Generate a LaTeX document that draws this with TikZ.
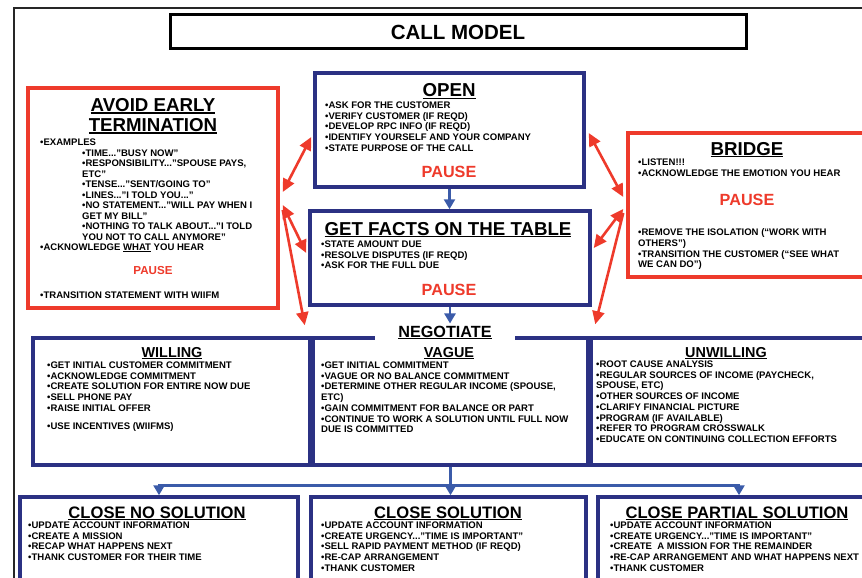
\documentclass[tikz,border=0pt]{standalone}
\usepackage{fontspec}
\setmainfont{Liberation Sans}
\usetikzlibrary{arrows.meta,calc,positioning}

\definecolor{navy}{HTML}{2B3183}
\definecolor{alertred}{HTML}{EE3A2B}
\definecolor{flowblue}{HTML}{3B5BA9}

% underlined headings with a heavier rule
\newcommand{\ulbox}[1]{\setbox0=\hbox{#1}\rlap{\rule[-2.4pt]{\wd0}{1.3pt}}\box0\relax}
\newcommand{\ulthin}[1]{\setbox0=\hbox{#1}\rlap{\rule[-1.4pt]{\wd0}{0.7pt}}\box0\relax}

\tikzset{
  navybox/.style={draw=navy, line width=3.5pt, fill=white, inner sep=0pt},
  redbox/.style={draw=alertred, line width=3.5pt, fill=white, inner sep=0pt},
  titlebox/.style={draw=black, line width=3pt, inner sep=0pt,
    font=\bfseries\fontsize{20.5}{22}\selectfont},
  boxhead/.style={font=\bfseries\fontsize{18.7}{20}\selectfont, inner sep=0pt, anchor=base},
  subhead/.style={font=\bfseries\fontsize{14.4}{16}\selectfont, inner sep=0pt, anchor=base},
  closehead/.style={font=\bfseries\fontsize{16.6}{18}\selectfont, inner sep=0pt, anchor=base},
  pointlist/.style={align=left, font=\bfseries\fontsize{9.55}{10.75}\selectfont,
    inner sep=0pt, anchor=north west},
  pausenote/.style={text=alertred, font=\bfseries\fontsize{16.2}{18}\selectfont,
    inner sep=0pt, anchor=base},
  redlink/.style={draw=alertred, line width=2.6pt,
    {Triangle[length=13pt,width=12pt]}-{Triangle[length=13pt,width=12pt]}},
  redpoint/.style={draw=alertred, line width=2.6pt, -{Triangle[length=13pt,width=12pt]}},
  blueline/.style={draw=flowblue, line width=2.8pt},
  bluearrow/.style={blueline, -{Triangle[length=10pt,width=11pt]}},
}

\begin{document}
\begin{tikzpicture}[x=1pt,y=-1pt]
\useasboundingbox (0,0) rectangle (862,578);
\clip (0,0) rectangle (862,578);

% page frame
\draw[line width=1.5pt, black!85] (14,590) -- (14,8) -- (875,8);

\node[titlebox, minimum width=576, minimum height=34] (title) at (458,32) {CALL MODEL};

% open
\node[navybox, minimum width=269, minimum height=114] (open) at (449.5,130) {};
\node[boxhead] (openhead) at (449,96.5) {\ulbox{OPEN}};
\node[pointlist] (openlist) at (325,101.5) {•ASK FOR THE CUSTOMER\\•VERIFY CUSTOMER (IF REQD)\\•DEVELOP RPC INFO (IF REQD)\\•IDENTIFY YOURSELF AND YOUR COMPANY\\•STATE PURPOSE OF THE CALL};
\node[pausenote] (openpause) at (449,177.5) {PAUSE};

% get facts
\node[navybox, minimum width=280, minimum height=94] (facts) at (450,258) {};
\node[boxhead] (factshead) at (448,235) {\ulbox{GET FACTS ON THE TABLE}};
\node[pointlist] (factslist) at (321,240.5) {•STATE AMOUNT DUE\\•RESOLVE DISPUTES (IF REQD)\\•ASK FOR THE FULL DUE};
\node[pausenote] (factspause) at (449,295.5) {PAUSE};

% avoid early termination
\node[redbox, minimum width=250, minimum height=220] (avoid) at (153,198) {};
\node[boxhead, align=center, anchor=north] (avoidhead) at (153,98) {\ulbox{AVOID EARLY}\\\ulbox{TERMINATION}};
\node[pointlist] (examples) at (40,138.5) {•EXAMPLES};
\node[pointlist, font=\bfseries\fontsize{9.55}{10.5}\selectfont] (examplelist) at (82,149.5) {•TIME..."BUSY NOW"\\•RESPONSIBILITY..."SPOUSE PAYS,\\ETC"\\•TENSE..."SENT/GOING TO"\\•LINES..."I TOLD YOU..."\\•NO STATEMENT..."WILL PAY WHEN I\\GET MY BILL"\\•NOTHING TO TALK ABOUT..."I TOLD\\YOU NOT TO CALL ANYMORE"};
\node[pointlist] (hearlist) at (40,243.5) {•ACKNOWLEDGE \ulthin{WHAT} YOU HEAR};
\node[pausenote, font=\bfseries\fontsize{11.6}{13}\selectfont] (avoidpause) at (153,274) {PAUSE};
\node[pointlist] (wiifm) at (40,291.5) {•TRANSITION STATEMENT WITH WIIFM};

% bridge
\node[redbox, minimum width=252, minimum height=144] (bridge) at (754,205) {};
\node[boxhead] (bridgehead) at (747,155) {\ulbox{BRIDGE}};
\node[pointlist] (listen) at (638,158.5) {•LISTEN!!!\\•ACKNOWLEDGE THE EMOTION YOU HEAR};
\node[pausenote] (bridgepause) at (747,205) {PAUSE};
\node[pointlist] (isolation) at (638,228.5) {•REMOVE THE ISOLATION (“WORK WITH\\OTHERS”)\\•TRANSITION THE CUSTOMER (“SEE WHAT\\WE CAN DO”)};

% negotiate
\node[navybox, minimum width=277, minimum height=127] (willing) at (171.5,401.5) {};
\node[navybox, minimum width=275, minimum height=127] (vague) at (450.5,401.5) {};
\node[navybox, minimum width=289, minimum height=127] (unwilling) at (735.5,401.5) {};
\node[fill=white, minimum width=140, inner xsep=0pt, inner ysep=2pt, anchor=base,
  font=\bfseries\fontsize{16.2}{18}\selectfont] (negotiate) at (445,337) {\ulbox{NEGOTIATE}};

\node[subhead] (willinghead) at (172,357) {\ulbox{WILLING}};
\node[pointlist] (willinglist) at (47,361.5) {•GET INITIAL CUSTOMER COMMITMENT\\•ACKNOWLEDGE COMMITMENT\\•CREATE SOLUTION FOR ENTIRE NOW DUE\\•SELL PHONE PAY\\•RAISE INITIAL OFFER\\[7pt]•USE INCENTIVES (WIIFMS)};

\node[subhead] (vaguehead) at (449,357) {\ulbox{VAGUE}};
\node[pointlist] (vaguelist) at (321,361.5) {•GET INITIAL COMMITMENT\\•VAGUE OR NO BALANCE COMMITMENT\\•DETERMINE OTHER REGULAR INCOME (SPOUSE,\\ETC)\\•GAIN COMMITMENT FOR BALANCE OR PART\\•CONTINUE TO WORK A SOLUTION UNTIL FULL NOW\\DUE IS COMMITTED};

\node[subhead] (unwillinghead) at (726,357) {\ulbox{UNWILLING}};
\node[pointlist] (unwillinglist) at (596,360.5) {•ROOT CAUSE ANALYSIS\\•REGULAR SOURCES OF INCOME (PAYCHECK,\\SPOUSE, ETC)\\•OTHER SOURCES OF INCOME\\•CLARIFY FINANCIAL PICTURE\\•PROGRAM (IF AVAILABLE)\\•REFER TO PROGRAM CROSSWALK\\•EDUCATE ON CONTINUING COLLECTION EFFORTS};

% close
\node[navybox, minimum width=278, minimum height=103] (closeno) at (159,548.5) {};
\node[navybox, minimum width=275, minimum height=103] (closesol) at (448.5,548.5) {};
\node[navybox, minimum width=282, minimum height=103] (closepart) at (739,548.5) {};

\node[closehead] (closenohead) at (157,518) {\ulbox{CLOSE NO SOLUTION}};
\node[pointlist] (closenolist) at (28,521.5) {•UPDATE ACCOUNT INFORMATION\\•CREATE A MISSION\\•RECAP WHAT HAPPENS NEXT\\•THANK CUSTOMER FOR THEIR TIME};
\node[closehead] (closesolhead) at (448,518) {\ulbox{CLOSE SOLUTION}};
\node[pointlist] (closesollist) at (321,521.5) {•UPDATE ACCOUNT INFORMATION\\•CREATE URGENCY..."TIME IS IMPORTANT"\\•SELL RAPID PAYMENT METHOD (IF REQD)\\•RE-CAP ARRANGEMENT\\•THANK CUSTOMER};
\node[closehead] (closeparthead) at (737,518) {\ulbox{CLOSE PARTIAL SOLUTION}};
\node[pointlist] (closepartlist) at (610,521.5) {•UPDATE ACCOUNT INFORMATION\\•CREATE URGENCY..."TIME IS IMPORTANT"\\•CREATE \ A MISSION FOR THE REMAINDER\\•RE-CAP ARRANGEMENT AND WHAT HAPPENS NEXT\\•THANK CUSTOMER};

% blue flow
\draw[bluearrow] (open.south) -- (open.south |- facts.north);
\draw[bluearrow] (facts.south) -- (facts.south |- negotiate.north);
\coordinate (split) at ($(vague.south)+(0,19)$);
\draw[blueline] (vague.south) -- (split);
\draw[bluearrow] (split) -| (closeno.north);
\draw[bluearrow] (split) -- (split |- closesol.north);
\draw[bluearrow] (split) -| (closepart.north);

% red links
\draw[redlink] ($(avoid.east)+(3,-6)$) -- ($(open.west)+(-2,7)$);
\draw[redlink] ($(avoid.east)+(3,7)$) -- ($(facts.west)+(-2,-5)$);
\draw[redpoint] ($(avoid.east)+(3,12)$) -- ($(willing.north east)+(-7,-11)$);
\draw[redlink] ($(bridge.west)+(-3,-8)$) -- ($(open.east)+(3,3)$);
\draw[redlink] ($(bridge.west)+(-3,4)$) -- ($(facts.east)+(2,-10)$);
\draw[redpoint] ($(bridge.west)+(-3,8)$) -- ($(unwilling.north west)+(6,-12)$);
\end{tikzpicture}
\end{document}
